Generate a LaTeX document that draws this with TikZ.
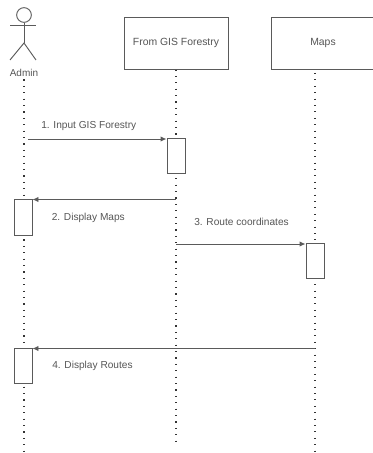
\documentclass[tikz,border=0pt]{standalone}
\usepackage{fontspec}
\setmainfont{Liberation Sans}
\usetikzlibrary{arrows.meta,positioning,backgrounds}
\definecolor{seqline}{HTML}{5A5A5A}
\definecolor{seqtext}{HTML}{555555}
\tikzset{
  party/.style={draw=seqline, line width=0.7pt, fill=white, minimum width=78pt, minimum height=39pt,
    inner sep=0pt, font=\fontsize{7.8}{9}\selectfont, text=seqtext},
  actbar/.style={draw=seqline, line width=0.7pt, fill=white, minimum width=13.5pt, minimum height=26.5pt, inner sep=0pt},
  lifeline/.style={draw=black!80, line width=0.8pt, dash pattern=on 0.8pt off 4pt},
  msg/.style={-{Latex[length=4.5pt,width=4pt]}, line width=0.7pt, draw=seqline},
  msglabel/.style={font=\fontsize{7.6}{8}\selectfont, text=seqtext, inner sep=0pt},
  figure/.style={draw=seqline, line width=0.7pt},
}
\begin{document}
\begin{tikzpicture}[x=0.75pt,y=-0.75pt]
\useasboundingbox (0,0) rectangle (373,453);
% actor
\node[circle, figure, minimum size=11pt, inner sep=0pt] (head) at (24,15) {};
\coordinate (hip) at (24,43);
\coordinate (armL) at (10,25);
\coordinate (armR) at (36,25);
\coordinate (legL) at (10,60);
\coordinate (legR) at (36,60);
\draw[figure] (head) -- (hip);
\draw[figure] (armL) -- (armR);
\draw[figure] (legL) -- (hip) -- (legR);
\node[font=\fontsize{7.5}{8}\selectfont, text=seqtext, inner sep=0pt] (admin) at (24,72.5) {Admin};
% parties
\node[party] (gis) at (176,43) {From GIS Forestry};
\node[party, minimum width=77pt] (maps) at (323,43) {Maps};
% activations
\node[actbar] (barA) at (176,156) {};
\node[actbar] (barB) at (23,217.5) {};
\node[actbar] (barC) at (315,261) {};
\node[actbar] (barD) at (23,366) {};
% ends of the lifelines
\coordinate (adminEnd) at (24,453);
\coordinate (gisEnd) at (176,446);
\coordinate (mapsTop) at (315,73);
\coordinate (mapsEnd) at (315,453);
\begin{scope}[on background layer]
  \draw[lifeline] (admin.south) ++(0,3) -- (adminEnd);
  \draw[lifeline] (gis.south -| gisEnd) -- (gisEnd);
  \draw[lifeline] (mapsTop) -- (mapsEnd);
\end{scope}
% messages
\coordinate (m1) at (28,139);
\coordinate (m2) at (176,199.5);
\coordinate (m3) at (176,244);
\coordinate (m4) at (315,348.5);
\draw[msg] (m1) -- (barA.north west |- m1);
\draw[msg] (m2) -- (barB.north east |- m2);
\draw[msg] (m3) -- (barC.north west |- m3);
\draw[msg] (m4) -- (barD.north east |- m4);
% labels
\node[msglabel, anchor=west] (l1) at (41,126) {1. Input GIS Forestry};
\node[msglabel, anchor=west] (l2) at (51.5,218) {2. Display Maps};
\node[msglabel, anchor=west] (l3) at (194,221.5) {3. Route coordinates};
\node[msglabel, anchor=west] (l4) at (52,366) {4. Display Routes};
\end{tikzpicture}
\end{document}
